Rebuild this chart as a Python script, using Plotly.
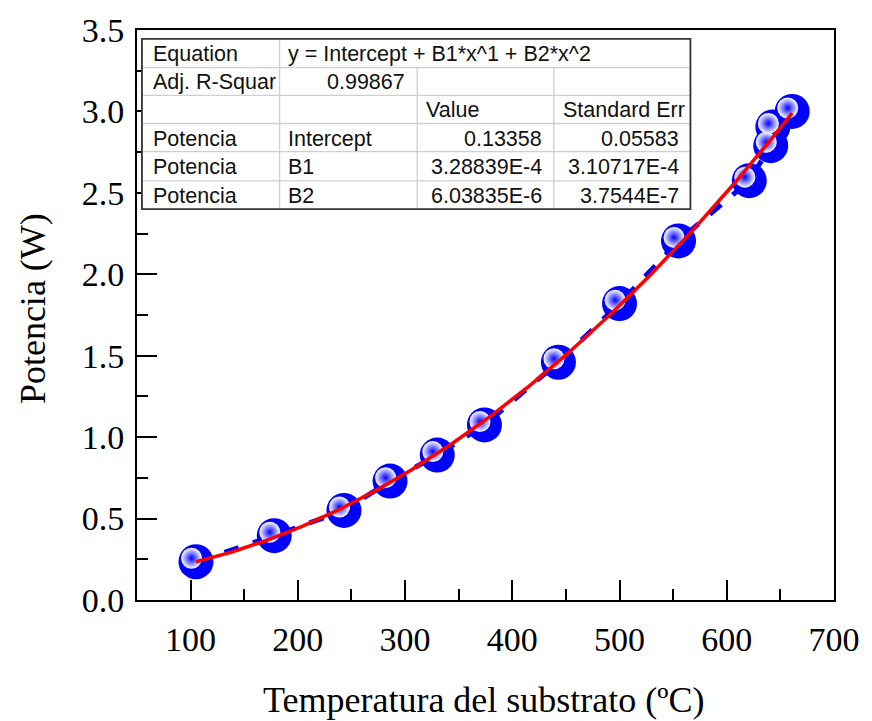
import numpy as np
import plotly.graph_objects as go

# ---- data ----
temperatura = [105, 178, 243, 286, 330, 374, 443, 500, 555, 621, 641, 643, 661]
potencia = [0.235, 0.395, 0.55, 0.73, 0.89, 1.075, 1.46, 1.82, 2.205, 2.575, 2.79, 2.905, 3.0]

fit_intercept = 0.13358
fit_b1 = 3.28839e-4
fit_b2 = 6.03835e-6

x_ticks = [100, 200, 300, 400, 500, 600, 700]
y_ticks = [0.0, 0.5, 1.0, 1.5, 2.0, 2.5, 3.0, 3.5]

table_rows = [
    ["Equation", "y = Intercept + B1*x^1 + B2*x^2", None, None],
    ["Adj. R-Squar", "0.99867", "", ""],
    ["", "", "Value", "Standard Err"],
    ["Potencia", "Intercept", "0.13358", "0.05583"],
    ["Potencia", "B1", "3.28839E-4", "3.10717E-4"],
    ["Potencia", "B2", "6.03835E-6", "3.7544E-7"],
]

# ---- layout geometry ----
W, H = 872, 721
ML, MR, MT, MB = 137, 31, 24, 121
PW, PH = W - ML - MR, H - MT - MB
XR = [50, 700]
YR = [0, 3.5]


def px_x(p):
    return (p - ML) / PW


def px_y(p):
    return (MT + PH - p) / PH


fig = go.Figure()

# dashed connecting line
fig.add_trace(go.Scatter(x=temperatura, y=potencia, mode="lines",
                         line=dict(color="#0000ff", width=5, dash="dash"),
                         hoverinfo="skip", showlegend=False))
# sphere bodies
fig.add_trace(go.Scatter(x=temperatura, y=potencia, mode="markers",
                         marker=dict(size=35, color="#0000ff", line=dict(width=0)),
                         showlegend=False))
# sphere highlights (offset up-left by a few pixels)
dx = -4.5 * (XR[1] - XR[0]) / PW
dy = 3.5 * (YR[1] - YR[0]) / PH
fig.add_trace(go.Scatter(x=[t + dx for t in temperatura], y=[p + dy for p in potencia],
                         mode="markers",
                         marker=dict(size=21, color="#ffffff",
                                     gradient=dict(type="radial", color="#0000ff"),
                                     line=dict(width=0)),
                         hoverinfo="skip", showlegend=False))
# fitted polynomial
xf = np.linspace(min(temperatura), max(temperatura), 200)
yf = fit_intercept + fit_b1 * xf + fit_b2 * xf ** 2
fig.add_trace(go.Scatter(x=xf, y=yf, mode="lines",
                         line=dict(color="#ff0000", width=3.5),
                         hoverinfo="skip", showlegend=False))

serif = "Liberation Serif, Times New Roman, serif"
sans = "Liberation Sans, Arial, sans-serif"

fig.update_xaxes(range=XR, tickvals=x_ticks, ticks="inside", ticklen=20, tickwidth=2,
                 tickcolor="black", showline=True, linewidth=2, linecolor="black",
                 mirror=True, showgrid=False, zeroline=False,
                 tickfont=dict(family=serif, size=34, color="black"),
                 ticklabelstandoff=8,
                 minor=dict(dtick=50, tick0=0, ticks="inside", ticklen=11, tickwidth=2,
                            tickcolor="black", showgrid=False))
fig.update_yaxes(range=YR, tickvals=y_ticks, tickformat=".1f", ticks="inside", ticklen=20,
                 tickwidth=2, tickcolor="black", showline=True, linewidth=2,
                 linecolor="black", mirror=True, showgrid=False, zeroline=False,
                 tickfont=dict(family=serif, size=34, color="black"),
                 ticklabelstandoff=4,
                 minor=dict(dtick=0.25, tick0=0, ticks="inside", ticklen=11, tickwidth=2,
                            tickcolor="black", showgrid=False))

annotations = [
    dict(text="Temperatura del substrato (ºC)", xref="paper", yref="paper",
         x=px_x(487), y=px_y(701), xanchor="center", yanchor="middle", showarrow=False,
         font=dict(family=serif, size=36, color="black")),
    dict(text="Potencia (W)", xref="paper", yref="paper", textangle=-90,
         x=px_x(32), y=px_y(306), xanchor="center", yanchor="middle", showarrow=False,
         font=dict(family=serif, size=36, color="black")),
]

# ---- parameter table ----
col_edges = [142, 281, 420, 558, 696]
row_edges = [33, 62, 90, 118.5, 147, 176.5, 205]
shapes = []
grid_col = "#cfcfcf"
# white background
shapes.append(dict(type="rect", xref="paper", yref="paper",
                   x0=px_x(col_edges[0]), x1=px_x(col_edges[-1]),
                   y0=px_y(row_edges[0]), y1=px_y(row_edges[-1]),
                   fillcolor="white", line=dict(width=0), layer="above"))
for r in row_edges[1:-1]:
    shapes.append(dict(type="line", xref="paper", yref="paper",
                       x0=px_x(col_edges[0]), x1=px_x(col_edges[-1]),
                       y0=px_y(r), y1=px_y(r), line=dict(color=grid_col, width=1.3),
                       layer="above"))
for i, c in enumerate(col_edges[1:-1]):
    top = row_edges[0] if i == 0 else row_edges[1]
    shapes.append(dict(type="line", xref="paper", yref="paper",
                       x0=px_x(c), x1=px_x(c), y0=px_y(top), y1=px_y(row_edges[-1]),
                       line=dict(color=grid_col, width=1.3), layer="above"))
shapes.append(dict(type="rect", xref="paper", yref="paper",
                   x0=px_x(col_edges[0]), x1=px_x(col_edges[-1]),
                   y0=px_y(row_edges[0]), y1=px_y(row_edges[-1]),
                   line=dict(color="#333333", width=1.8), layer="above"))

num_chars = set("0123456789.E-")
for ri, row in enumerate(table_rows):
    yc = (row_edges[ri] + row_edges[ri + 1]) / 2
    for ci, cell in enumerate(row):
        if not cell:
            continue
        is_num = all(ch in num_chars for ch in cell)
        if is_num:
            xa, xp = "right", col_edges[ci + 1] - 10
        else:
            xa, xp = "left", col_edges[ci] + (7 if ci else 9)
        annotations.append(dict(text=cell, xref="paper", yref="paper",
                                x=px_x(xp), y=px_y(yc + 1), xanchor=xa, yanchor="middle",
                                showarrow=False,
                                font=dict(family=sans, size=21.5, color="#111111")))

fig.update_layout(width=W, height=H, margin=dict(l=ML, r=MR, t=MT, b=MB),
                  plot_bgcolor="white", paper_bgcolor="white", showlegend=False,
                  shapes=shapes, annotations=annotations)

fig.write_html("out.html")
